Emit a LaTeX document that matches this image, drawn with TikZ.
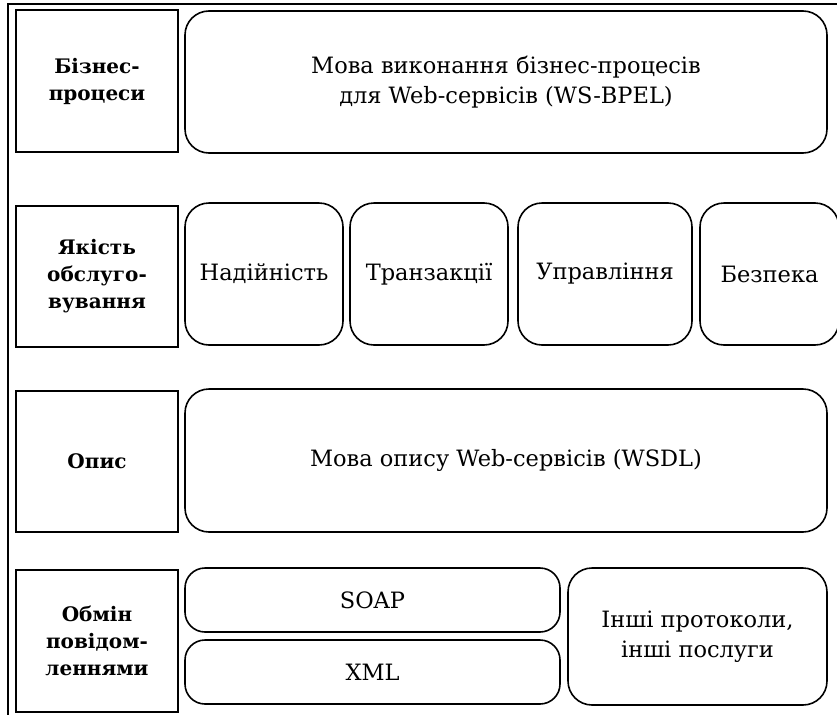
\documentclass[tikz,border=0pt]{standalone}
\usepackage{fontspec}
\setmainfont{DejaVu Serif}
\begin{document}
\begin{tikzpicture}[x=1pt,y=-1pt,
  lbl/.style={draw, line width=1.7pt, font=\fontsize{20}{27}\selectfont\bfseries,
    align=center, inner sep=0pt, outer sep=0pt},
  item/.style={draw, line width=1.6pt, rounded corners=24pt,
    font=\fontsize{22.5}{30}\selectfont, align=center, inner sep=0pt, outer sep=0pt},
  thin item/.style={item, rounded corners=20pt}]
\useasboundingbox (0,0) rectangle (837,715);
\clip (0,0) rectangle (837,715);
% outer frame
\draw[line width=2.4pt] (837,4) -- (8,4) -- (8,715);
% row 1: business processes
\node[lbl, minimum width=162pt, minimum height=142pt] (l1) at (97,81) {Бізнес-\\процеси};
\node[item, minimum width=642pt, minimum height=142pt] (b1) at (506,82)
  {Мова виконання бізнес-процесів\\для Web-сервісів (WS-BPEL)};
% row 2: quality of service
\node[lbl, minimum width=162pt, minimum height=141pt] (l2) at (97,276.5) {Якість\\обслуго-\\вування};
\node[item, minimum width=158pt, minimum height=142pt] (q1) at (264,274) {Надійність};
\node[item, minimum width=158pt, minimum height=142pt] (q2) at (429,274) {Транзакції};
\node[item, minimum width=174pt, minimum height=142pt] (q3) at (605,274) {Управління};
\node[item, minimum width=139pt, minimum height=142pt] (q4) at (769.5,274) {Безпека};
% row 3: description
\node[lbl, minimum width=162pt, minimum height=141pt] (l3) at (97,461.5) {Опис};
\node[item, minimum width=642pt, minimum height=143pt] (d1) at (506,460.5)
  {Мова опису Web-сервісів (WSDL)};
% row 4: messaging
\node[lbl, minimum width=162pt, minimum height=142pt] (l4) at (97,641) {Обмін\\повідом-\\леннями};
\node[thin item, minimum width=375pt, minimum height=64pt] (s1) at (372.5,600) {SOAP};
\node[thin item, minimum width=375pt, minimum height=64pt] (x1) at (372.5,672) {XML};
\node[item, minimum width=259pt, minimum height=137pt] (o1) at (697.5,636.5)
  {Інші протоколи,\\інші послуги};
\end{tikzpicture}
\end{document}
